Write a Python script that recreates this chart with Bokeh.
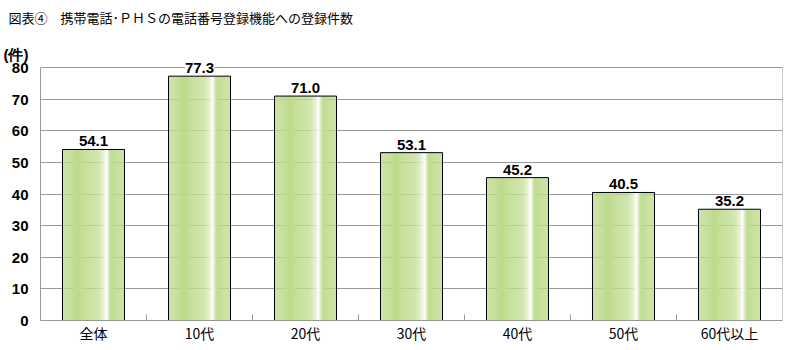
from bokeh.plotting import figure
from bokeh.models import FactorRange, Range1d, ColumnDataSource, Title, FixedTicker
from bokeh.transform import dodge
from bokeh.core.properties import value
from bokeh.embed import file_html
from bokeh.resources import INLINE

title_text = "図表④　携帯電話･ＰＨＳの電話番号登録機能への登録件数"
unit_text = "(件)"
categories = ["全体", "10代", "20代", "30代", "40代", "50代", "60代以上"]
counts = [54.1, 77.3, 71.0, 53.1, 45.2, 40.5, 35.2]
y_ticks = [0, 10, 20, 30, 40, 50, 60, 70, 80]
y_max = 80
unit_pos = 84

p = figure(width=792, height=350, output_backend="svg", toolbar_location=None,
           x_range=FactorRange(*categories, range_padding=0),
           y_range=Range1d(0, 87),
           min_border_left=40, min_border_right=10, min_border_top=45, min_border_bottom=30)
p.background_fill_color = "white"
p.border_fill_color = "white"
p.outline_line_color = None

# gradient bars built from stripes
bar_w = 0.585
n = 60
base = (189, 219, 139)
def shade(t):
    if t < 0.45:
        k = 0.0
    elif t < 0.71:
        k = ((t - 0.45) / 0.26) ** 2.4
    elif t < 0.80:
        k = ((0.80 - t) / 0.09) ** 1.6
    else:
        k = 0.0
    r, g, b = [int(round(c + (255 - c) * k)) for c in base]
    return "#%02x%02x%02x" % (r, g, b)

src = ColumnDataSource(dict(cat=categories, val=counts,
                            lab=["%.1f" % v for v in counts]))
sw = bar_w / n
for i in range(n):
    t = (i + 0.5) / n
    off = -bar_w / 2 + (i + 0.5) * sw
    p.vbar(x=dodge("cat", off, range=p.x_range), top="val", width=sw * 1.05,
           source=src, fill_color=shade(t), line_color=None)
p.vbar(x="cat", top="val", width=bar_w, source=src, fill_color=None,
       line_color="black", line_width=1)

# boundary ticks between categories
bsrc = ColumnDataSource(dict(cat=categories[1:], y0=[0] * 6, y1=[1.9] * 6))
p.segment(x0=dodge("cat", -0.5, range=p.x_range), x1=dodge("cat", -0.5, range=p.x_range),
          y0="y0", y1="y1", source=bsrc, line_color="#999999", line_width=1)
# right border of the plot area
rsrc = ColumnDataSource(dict(cat=[categories[-1]], y0=[0], y1=[y_max]))
p.segment(x0=dodge("cat", 0.5, range=p.x_range), x1=dodge("cat", 0.5, range=p.x_range),
          y0="y0", y1="y1", source=rsrc, line_color="#999999", line_width=1)

p.text(x="cat", y="val", text="lab", source=src, text_align="center",
       text_baseline="bottom", y_offset=-3, text_font=value("Liberation Sans"),
       text_font_size="15px", text_font_style="bold", text_color="black",
       background_fill_color="white")

p.xgrid.grid_line_color = None
p.ygrid.grid_line_color = "#999999"
p.ygrid.ticker = FixedTicker(ticks=y_ticks)
p.yaxis.ticker = FixedTicker(ticks=y_ticks + [unit_pos])
p.yaxis.major_label_overrides = {unit_pos: unit_text}
p.yaxis.bounds = (0, y_max)
p.yaxis.axis_line_color = "#999999"
p.yaxis.major_tick_line_color = None
p.yaxis.minor_tick_line_color = None
p.yaxis.major_label_text_font = "Liberation Sans"
p.yaxis.major_label_text_font_size = "15px"
p.yaxis.major_label_text_font_style = "bold"
p.yaxis.major_label_text_color = "black"
p.yaxis.major_label_standoff = 6
p.xaxis.axis_line_color = "#999999"
p.xaxis.major_tick_line_color = None
p.xaxis.minor_tick_line_color = None
p.xaxis.major_tick_out = 0
p.xaxis.major_tick_in = 0
p.xaxis.major_label_text_font = "Noto Sans CJK JP"
p.xaxis.major_label_text_font_size = "14px"
p.xaxis.major_label_text_color = "black"
p.xaxis.major_label_standoff = 2

p.add_layout(Title(text=" ", align="left", text_font_size="2px"), "above")
p.add_layout(Title(text=title_text, align="left", offset=-32,
                   text_font="Noto Sans CJK JP", text_font_size="13px",
                   text_font_style="normal", text_color="black"), "above")

open("out.html", "w").write(file_html(p, INLINE))
